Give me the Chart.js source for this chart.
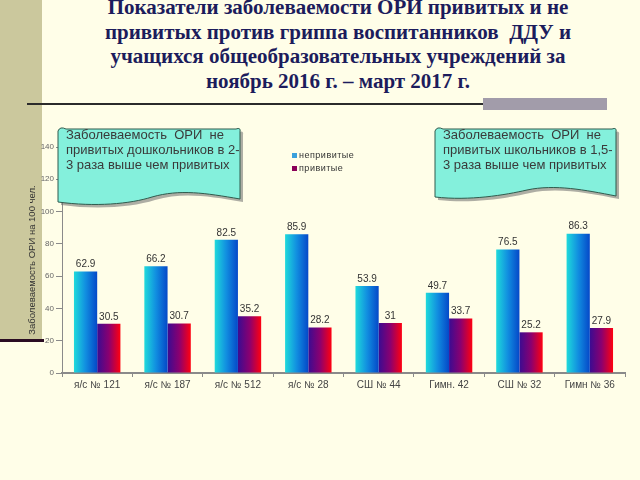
<!DOCTYPE html>
<html>
<head>
<meta charset="utf-8">
<script src="https://cdn.jsdelivr.net/npm/chart.js@4"></script>
<style>
  body { margin: 0; width: 640px; height: 480px; background: #fffee8; overflow: hidden; position: relative; font-family: "Liberation Sans", Arial, sans-serif; }
  #strip { position: absolute; left: 0; top: 0; width: 42px; height: 340px; background: #cbc89d; }
  #stripLine { position: absolute; left: 0; top: 339px; width: 44px; height: 3px; background: #2a0c22; }
  #rule { position: absolute; left: 27px; top: 103px; width: 580px; height: 2px; background: #2b2b2b; }
  #ruleBlock { position: absolute; left: 483px; top: 98px; width: 124px; height: 12px; background: #a29caa; }
  #title { position: absolute; left: 38px; width: 600px; top: -5px; text-align: center; font-family: "Liberation Serif", "Times New Roman", serif; font-weight: bold; font-size: 21px; line-height: 24.5px; color: #1c1c5c; }
  #chartBox { position: absolute; left: 0; top: 110px; }
  #overlay { position: absolute; left: 0; top: 0; }
  .note { position: absolute; font-size: 13px; line-height: 15px; color: #3a3a3a; white-space: pre; }
  #legend { position: absolute; left: 292px; top: 149px; font-size: 9px; letter-spacing: 0.5px; color: #333; line-height: 13px; }
  #legend span.sw { display: inline-block; width: 5px; height: 5px; margin-right: 2px; }
</style>
</head>
<body>
<div id="strip"></div>
<div id="stripLine"></div>
<div id="rule"></div>
<div id="ruleBlock"></div>
<div id="title">Показатели заболеваемости ОРИ привитых и не<br>привитых против гриппа воспитанников&nbsp; ДДУ и<br>учащихся общеобразовательных учреждений за<br>ноябрь 2016 г. – март 2017 г.</div>
<div id="chartBox"><canvas id="myChart" width="640" height="300"></canvas></div>
<svg id="overlay" width="640" height="480">
  <g transform="translate(3,3)" fill="#6b6b6b" opacity="0.55">
    <path d="M58,131 Q60,126 66,129 L236,129 Q241,127 240,132 L240,199 C205,193 180,189 152,197 C130,204 95,207 58,202 Z"/>
    <path d="M435,131 Q437,126 443,129 L612,129 Q617,127 616,132 L616,196 C585,190 555,184 527,190 C505,195 470,201 435,197 Z"/>
  </g>
  <g fill="#84f0dc" stroke="#2f5a4c" stroke-width="1">
    <path d="M58,131 Q60,126 66,129 L236,129 Q241,127 240,132 L240,199 C205,193 180,189 152,197 C130,204 95,207 58,202 Z"/>
    <path d="M435,131 Q437,126 443,129 L612,129 Q617,127 616,132 L616,196 C585,190 555,184 527,190 C505,195 470,201 435,197 Z"/>
  </g>
</svg>
<div class="note" style="left:66px; top:127px;">Заболеваемость  ОРИ  не
привитых дошкольников в 2-
3 раза выше чем привитых</div>
<div class="note" style="left:443px; top:127px;">Заболеваемость  ОРИ  не
привитых школьников в 1,5-
3 раза выше чем привитых</div>
<div id="legend"></div>

<script>
const categories = ["я/с № 121", "я/с № 187", "я/с № 512", "я/с № 28", "СШ № 44", "Гимн. 42", "СШ № 32", "Гимн № 36"];
const unvaccinated = [62.9, 66.2, 82.5, 85.9, 53.9, 49.7, 76.5, 86.3];
const vaccinated = [30.5, 30.7, 35.2, 28.2, 31, 33.7, 25.2, 27.9];
const seriesNames = ["непривитые", "привитые"];
const yTicks = [0, 20, 40, 60, 80, 100, 120, 140];

const gradStops = [
  ["#1fdadb", "#118ee0", "#0548c8"],
  ["#3a0c92", "#8a0070", "#ff0010"],
];
const legendColors = ["#3aa0dc", "#8a0058"];

// fill each bar with a left-to-right gradient
const barGradient = {
  id: "barGradient",
  beforeDatasetsDraw(chart) {
    const c = chart.ctx;
    chart.data.datasets.forEach((ds, i) => {
      chart.getDatasetMeta(i).data.forEach((bar) => {
        const left = bar.x - bar.width / 2;
        const g = c.createLinearGradient(left, 0, left + bar.width, 0);
        const stops = gradStops[i];
        g.addColorStop(0, stops[0]);
        g.addColorStop(0.5, stops[1]);
        g.addColorStop(1, stops[2]);
        bar.options = Object.assign({}, bar.options, { backgroundColor: g });
      });
    });
  },
  afterDatasetsDraw(chart) {
    const c = chart.ctx;
    c.save();
    c.font = "10px 'Liberation Sans', Arial, sans-serif";
    c.fillStyle = "#333";
    c.textAlign = "center";
    c.textBaseline = "bottom";
    chart.data.datasets.forEach((ds, i) => {
      chart.getDatasetMeta(i).data.forEach((bar, j) => {
        c.fillText(String(ds.data[j]), bar.x, bar.y - 2);
      });
    });
    c.restore();
  },
};

const ctx = document.getElementById("myChart");

new Chart(ctx, {
  type: "bar",
  data: {
    labels: categories,
    datasets: [
      { label: seriesNames[0], data: unvaccinated },
      { label: seriesNames[1], data: vaccinated },
    ],
  },
  options: {
    responsive: false,
    animation: false,
    devicePixelRatio: 1,
    categoryPercentage: 0.66,
    barPercentage: 1.0,
    layout: { padding: { top: 37, right: 15, left: 0, bottom: 0 } },
    plugins: {
      legend: { display: false },
      tooltip: { enabled: false },
    },
    scales: {
      x: {
        afterFit: (s) => { s.height = 37; },
        grid: { drawOnChartArea: false, drawTicks: true, tickLength: 4, color: "#8a8a8a" },
        border: { color: "#8a8a8a", width: 2 },
        ticks: { color: "#444", padding: 2, font: { size: 10, family: "'Liberation Sans', Arial" }, maxRotation: 0 },
      },
      y: {
        min: 0,
        max: 140,
        afterFit: (s) => { s.width = 62; },
        afterBuildTicks: (s) => { s.ticks = yTicks.map((v) => ({ value: v })); },
        grid: { drawOnChartArea: false, drawTicks: true, tickLength: 6, color: "#8a8a8a" },
        border: { color: "#8a8a8a", width: 1 },
        ticks: { color: "#666", padding: 2, font: { size: 8, family: "'Liberation Sans', Arial" } },
        title: {
          display: true,
          text: "Заболеваемость ОРИ на 100 чел.",
          color: "#333",
          font: { size: 9.5, family: "'Liberation Sans', Arial" },
          padding: { top: 27, bottom: 0 },
        },
      },
    },
  },
  plugins: [barGradient],
});

// legend built from the series names
const legend = document.getElementById("legend");
seriesNames.forEach((name, i) => {
  const row = document.createElement("div");
  const sw = document.createElement("span");
  sw.className = "sw";
  sw.style.background = legendColors[i];
  row.appendChild(sw);
  row.appendChild(document.createTextNode(name));
  legend.appendChild(row);
});
</script>
</body>
</html>
